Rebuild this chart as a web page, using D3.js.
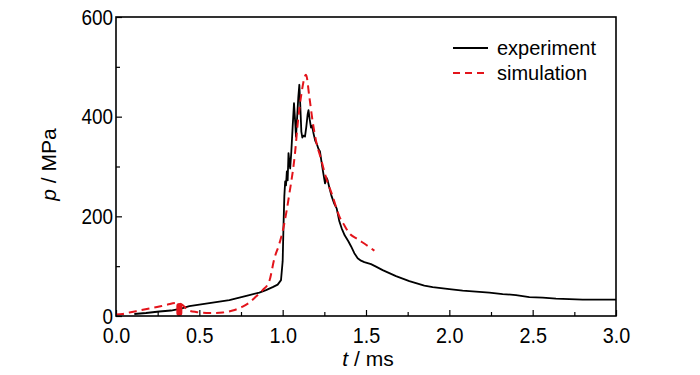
<!DOCTYPE html>
<html>
<head>
<meta charset="utf-8">
<script src="https://cdn.jsdelivr.net/npm/d3@7"></script>
<style>
  body { margin: 0; background: #fff; }
  text { font-family: "Liberation Sans", Arial, sans-serif; fill: #000; }
</style>
</head>
<body>
<div id="chart"></div>
<script>
// Pressure history: experiment vs simulation
const expT = [0.11, 0.18, 0.26, 0.33, 0.39, 0.44, 0.50, 0.56, 0.62, 0.68, 0.74, 0.80, 0.86, 0.90, 0.94, 0.97, 0.99,
  1.000, 1.005, 1.010, 1.015, 1.020, 1.025, 1.030, 1.035, 1.040, 1.045, 1.052, 1.060, 1.068, 1.075, 1.080, 1.088, 1.094,
  1.100, 1.106, 1.112, 1.118, 1.126, 1.134, 1.142, 1.150, 1.155, 1.162, 1.170, 1.176, 1.186, 1.195, 1.205, 1.215, 1.224,
  1.232, 1.242, 1.254, 1.262, 1.270, 1.280, 1.294, 1.310, 1.324, 1.340, 1.354, 1.372, 1.394, 1.410, 1.430, 1.450, 1.470,
  1.490, 1.510, 1.530, 1.560, 1.600, 1.640, 1.680, 1.720, 1.760, 1.800, 1.850, 1.900, 1.950, 2.000, 2.080, 2.160, 2.240,
  2.320, 2.400, 2.480, 2.560, 2.640, 2.720, 2.800, 2.880, 2.960, 3.000];
const expP = [4, 6, 9, 11, 15, 20, 23, 26, 29, 32, 37, 42, 47, 52, 58, 63, 72,
  110, 180, 240, 270, 262, 290, 272, 327, 310, 296, 330, 380, 427, 390, 360, 405, 440,
  464, 420, 370, 358, 362, 360, 380, 405, 413, 395, 378, 382, 365, 352, 345, 335, 330,
  312, 290, 266, 278, 272, 258, 240, 225, 216, 190, 176, 162, 150, 140, 126, 116, 111,
  108, 106, 104, 99, 92, 86, 80, 75, 70, 66, 61, 58, 56, 54, 51, 49, 47,
  44, 42, 38, 37, 35, 34, 33, 33, 33, 33];

const simT = [0.00, 0.04, 0.08, 0.14, 0.20, 0.26, 0.31, 0.36, 0.40, 0.43, 0.48, 0.56, 0.64, 0.70, 0.76, 0.80, 0.84,
  0.88, 0.92, 0.95, 0.98, 1.00, 1.04, 1.075, 1.09, 1.11, 1.14, 1.16, 1.18, 1.20, 1.23, 1.26, 1.30, 1.34, 1.37, 1.40,
  1.45, 1.50, 1.55];
const simP = [3, 4, 7, 11, 15, 19, 23, 26, 22, 12, 8, 6, 7, 11, 19, 27, 39,
  52, 70, 115, 145, 170, 245, 330, 385, 440, 484, 440, 390, 352, 315, 278, 240, 200, 182, 166,
  154, 143, 131];

// red blot on the simulation curve
const blotT = [0.38];
const blotLow = [0];
const blotHigh = [26];

const xTicks = [0, 0.5, 1.0, 1.5, 2.0, 2.5, 3.0];
const xMinor = [0.25, 0.75, 1.25, 1.75, 2.25, 2.75];
const yTicks = [0, 200, 400, 600];
const yMinor = [100, 300, 500];

const seriesNames = ['experiment', 'simulation'];
const RED = '#e3141b';

const margin = {top: 17, right: 84, bottom: 59, left: 116};
const W = 700, H = 375;
const width = W - margin.left - margin.right;
const height = H - margin.top - margin.bottom;

const svg = d3.select('#chart').append('svg')
  .attr('width', W)
  .attr('height', H);
const g = svg.append('g')
  .attr('transform', `translate(${margin.left},${margin.top})`);

const x = d3.scaleLinear().domain([0, 3]).range([0, width]);
const y = d3.scaleLinear().domain([0, 600]).range([height, 0]);

// Axes (ticks point inward)
const xAxis = g.append('g')
  .attr('transform', `translate(0,${height})`)
  .call(d3.axisBottom(x).tickValues(xTicks).tickFormat(d3.format('.1f')).tickSizeInner(-6).tickPadding(11));
xAxis.select('.domain').remove();
xAxis.selectAll('line').attr('stroke', '#000').attr('stroke-width', 1.2);
xAxis.selectAll('text')
  .attr('font-size', 22)
  .attr('transform', 'scale(0.9,1)')
  .style('font-family', '"Liberation Sans", Arial, sans-serif');

const xMin = g.append('g')
  .attr('transform', `translate(0,${height})`)
  .call(d3.axisBottom(x).tickValues(xMinor).tickFormat('').tickSizeInner(-4));
xMin.select('.domain').remove();
xMin.selectAll('line').attr('stroke', '#000').attr('stroke-width', 1.2);

const yAxis = g.append('g')
  .call(d3.axisLeft(y).tickValues(yTicks).tickSizeInner(-6).tickPadding(3));
yAxis.select('.domain').remove();
yAxis.selectAll('line').attr('stroke', '#000').attr('stroke-width', 1.2);
yAxis.selectAll('text')
  .attr('font-size', 22)
  .attr('x', -3 / 0.86)
  .attr('transform', 'scale(0.86,1)')
  .style('font-family', '"Liberation Sans", Arial, sans-serif');

const yMin = g.append('g')
  .call(d3.axisLeft(y).tickValues(yMinor).tickFormat('').tickSizeInner(-4));
yMin.select('.domain').remove();
yMin.selectAll('line').attr('stroke', '#000').attr('stroke-width', 1.2);

// Lines
const line = d3.line()
  .x(d => x(d[0]))
  .y(d => y(d[1]));

const expData = expT.map((t, i) => [t, expP[i]]);
const simData = simT.map((t, i) => [t, simP[i]]);

g.append('path')
  .datum(expData)
  .attr('fill', 'none')
  .attr('stroke', '#000')
  .attr('stroke-width', 1.8)
  .attr('stroke-linejoin', 'round')
  .attr('d', line);

g.append('path')
  .datum(simData)
  .attr('fill', 'none')
  .attr('stroke', RED)
  .attr('stroke-width', 2)
  .attr('stroke-dasharray', '8,5')
  .attr('d', d3.line().x(d => x(d[0])).y(d => y(d[1])).curve(d3.curveMonotoneX));

// red blot
g.selectAll('.blot')
  .data(blotT.map((t, i) => ({t, lo: blotLow[i], hi: blotHigh[i]})))
  .enter()
  .append('rect')
  .attr('class', 'blot')
  .attr('x', d => x(d.t) - 3)
  .attr('y', d => y(d.hi))
  .attr('width', 6)
  .attr('height', d => y(d.lo) - y(d.hi))
  .attr('rx', 3)
  .attr('fill', RED);

// Frame
g.append('rect')
  .attr('width', width)
  .attr('height', height)
  .attr('fill', 'none')
  .attr('stroke', '#000')
  .attr('stroke-width', 1.6);

// Axis titles
const xt = svg.append('text')
  .attr('x', margin.left + width / 2 + 2)
  .attr('y', 366)
  .attr('text-anchor', 'middle')
  .attr('font-size', 21);
xt.append('tspan').attr('font-style', 'italic').text('t');
xt.append('tspan').text(' / ms');

const yt = svg.append('text')
  .attr('transform', `translate(56,${margin.top + height / 2 - 2}) rotate(-90)`)
  .attr('text-anchor', 'middle')
  .attr('font-size', 21);
yt.append('tspan').attr('font-style', 'italic').text('p');
yt.append('tspan').text(' / MPa');

// Legend
const legend = svg.append('g').attr('transform', 'translate(453,48)');
seriesNames.forEach((name, i) => {
  const row = legend.append('g').attr('transform', `translate(0,${i * 25})`);
  row.append('line')
    .attr('x1', 0).attr('x2', 35)
    .attr('stroke', i === 0 ? '#000' : RED)
    .attr('stroke-width', i === 0 ? 1.8 : 2)
    .attr('stroke-dasharray', i === 0 ? null : '7,5');
  row.append('text')
    .attr('x', 44)
    .attr('y', 7)
    .attr('font-size', 20)
    .text(name);
});
</script>
</body>
</html>
